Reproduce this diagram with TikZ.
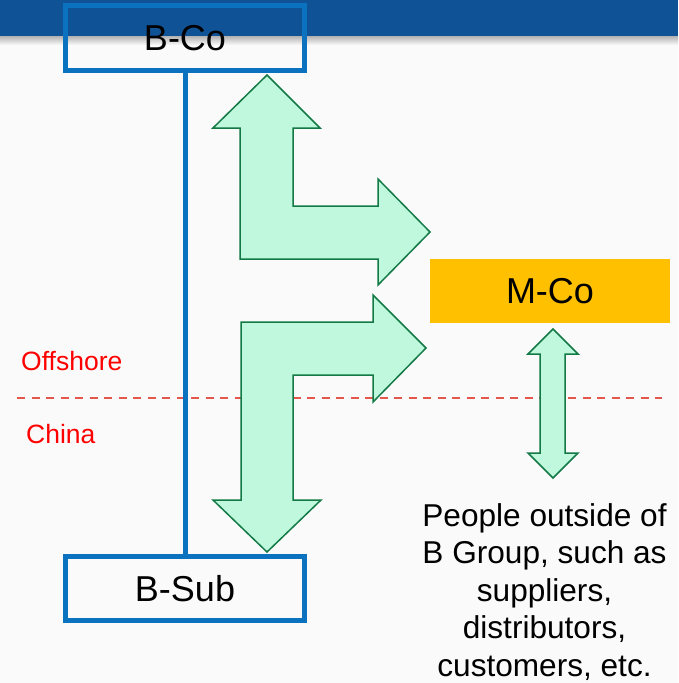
\documentclass[tikz,border=0pt]{standalone}
\usepackage{fontspec}
\setmainfont{Liberation Sans}
\usetikzlibrary{positioning}

\definecolor{barblue}{HTML}{0F5296}
\definecolor{boxblue}{HTML}{0A72BE}
\definecolor{mcogold}{HTML}{FFC000}
\definecolor{mint}{HTML}{BFF8DD}
\definecolor{arrowgreen}{HTML}{137A46}
\definecolor{dashred}{HTML}{E4574B}
\definecolor{bggray}{HTML}{FAFAFA}

\begin{document}
\begin{tikzpicture}[x=1pt, y=-1pt,
    cobox/.style={rectangle, draw=boxblue, line width=5pt, minimum width=238.5pt, minimum height=64.5pt, inner sep=0pt, font=\fontsize{36}{43}\selectfont},
    mbox/.style={rectangle, fill=mcogold, minimum width=240pt, minimum height=64pt, inner sep=0pt, font=\fontsize{36}{43}\selectfont},
    blockarrow/.style={fill=mint, draw=arrowgreen, line width=1.5pt, line join=miter},
    zonelabel/.style={text=red, inner sep=0pt, font=\fontsize{26.5}{31}\selectfont},
    boxline/.style={draw=boxblue, line width=5pt}]

    % page and title bar
    \fill[bggray] (0,0) rectangle (678,683);
    \fill[barblue] (0,0) rectangle (678,36);
    \shade[top color=black!30, bottom color=bggray] (0,36) rectangle (678,45);
    \useasboundingbox (0,0) rectangle (678,683);

    % offshore / china border
    \draw[dashred, line width=1.5pt, dash pattern=on 8pt off 6.5pt] (17,398) -- (662,398);
    \node[zonelabel, anchor=base west] (offshore) at (21,370) {Offshore};
    \node[zonelabel, anchor=base west] (china) at (26,443) {China};

    \node[cobox] (bco) at (185,37.75) {B-Co};
    \node[cobox, minimum height=63.5pt] (bsub) at (185,588.25) {B-Sub};
    \draw[boxline] (bco) -- (bsub);

    \node[mbox] (mco) at (550,291) {M-Co};
    \node[align=center, inner sep=0pt, anchor=north, font=\fontsize{31.6}{37.6}\selectfont] (people) at (544.5,503)
        {People outside of\\B Group, such as\\suppliers,\\distributors,\\customers, etc.};

    % block arrows
    \draw[blockarrow] (267,75) -- (320,128) -- (293,128) -- (293,206) -- (378,206) -- (378,179)
        -- (430,232) -- (378,285) -- (378,259) -- (240,259) -- (240,128) -- (213,128) -- cycle;
    \draw[blockarrow] (241,322) -- (373,322) -- (373,295) -- (426,348) -- (373,402) -- (373,375)
        -- (293,375) -- (293,500) -- (321,500) -- (267,552) -- (213,500) -- (241,500) -- cycle;
    \draw[blockarrow] (553,329) -- (578,354) -- (565,354) -- (565,453) -- (578,453) -- (553,478)
        -- (528,453) -- (540,453) -- (540,354) -- (528,354) -- cycle;
\end{tikzpicture}
\end{document}
